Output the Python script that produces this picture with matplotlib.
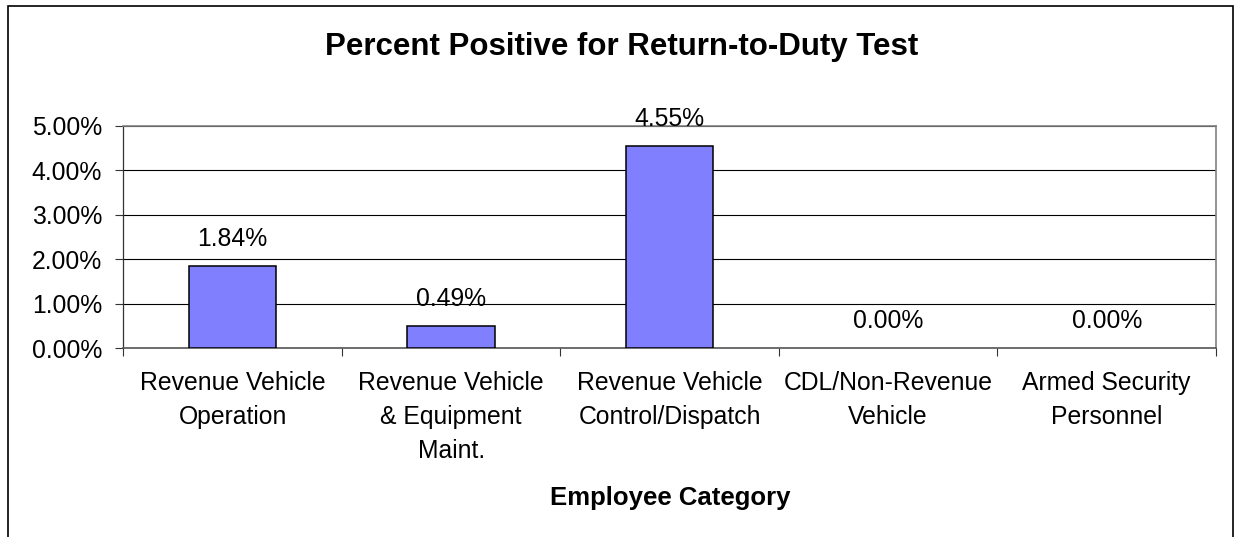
import matplotlib
matplotlib.use("Agg")
import matplotlib.pyplot as plt
from matplotlib.patches import Rectangle
from matplotlib.ticker import FixedLocator, FuncFormatter

plt.rcParams['font.family'] = ['Liberation Sans', 'DejaVu Sans']

categories = ["Revenue Vehicle\nOperation",
              "Revenue Vehicle\n& Equipment\nMaint.",
              "Revenue Vehicle\nControl/Dispatch",
              "CDL/Non-Revenue\nVehicle",
              "Armed Security\nPersonnel"]
values = [1.84, 0.49, 4.55, 0.00, 0.00]
value_labels = ["1.84%", "0.49%", "4.55%", "0.00%", "0.00%"]
yticks = [0, 1, 2, 3, 4, 5]
title = "Percent Positive for Return-to-Duty Test"
xlabel = "Employee Category"

W, H = 1235, 537
FS = 17.8
fig = plt.figure(figsize=(W / 100, H / 100), dpi=100)
fig.patch.set_facecolor('white')

ax = fig.add_axes([123.3 / W, (H - 348.3) / H, (1216 - 123.3) / W, (348.3 - 125.5) / H])

x = list(range(len(categories)))
edge_w = [1.1 if v > 0 else 0 for v in values]
ax.bar(x, values, width=0.40, color='#8080FF', edgecolor='black', linewidth=edge_w, zorder=3)

ax.set_xlim(-0.5, len(categories) - 0.5)
ax.set_ylim(0, 5)
ax.set_yticks(yticks)
ax.yaxis.set_major_formatter(FuncFormatter(lambda v, p: f"{v:.2f}%"))
ax.tick_params(axis='y', direction='out', length=5.8, width=0.8, color='#333333',
               pad=9.5, labelsize=FS)

ax.set_xticks(x)
ax.set_xticklabels(categories, fontsize=FS, linespacing=1.55)
ax.tick_params(axis='x', which='major', length=0, pad=16)
ax.xaxis.set_minor_locator(FixedLocator([i - 0.5 for i in range(len(categories) + 1)]))
ax.tick_params(axis='x', which='minor', direction='out', length=5.5, width=0.8, color='#333333')

ax.set_axisbelow(True)
ax.yaxis.grid(True, color='black', linewidth=0.8)

for s in ['top', 'right']:
    ax.spines[s].set_color('#808080')
    ax.spines[s].set_linewidth(1.2)
ax.spines['left'].set_color('#333333')
ax.spines['left'].set_linewidth(0.9)
ax.spines['bottom'].set_color('#555555')
ax.spines['bottom'].set_linewidth(1.2)

for i, (v, lab) in enumerate(zip(values, value_labels)):
    ax.annotate(lab, xy=(i, v), xytext=(0, 14.4), textcoords='offset points',
                ha='center', va='baseline', fontsize=FS, zorder=4)

fig.text(622 / W, (H - 55) / H, title, ha='center', va='baseline',
         fontsize=22.5, fontweight='bold')
fig.text(670 / W, (H - 505) / H, xlabel, ha='center', va='baseline',
         fontsize=18.5, fontweight='bold')

fig.patches.append(Rectangle((8 / W, -0.05), (1233 - 8) / W, (H - 6) / H + 0.05,
                             transform=fig.transFigure, fill=False,
                             edgecolor='black', linewidth=1.2))

fig.savefig("out.png", dpi=100)
